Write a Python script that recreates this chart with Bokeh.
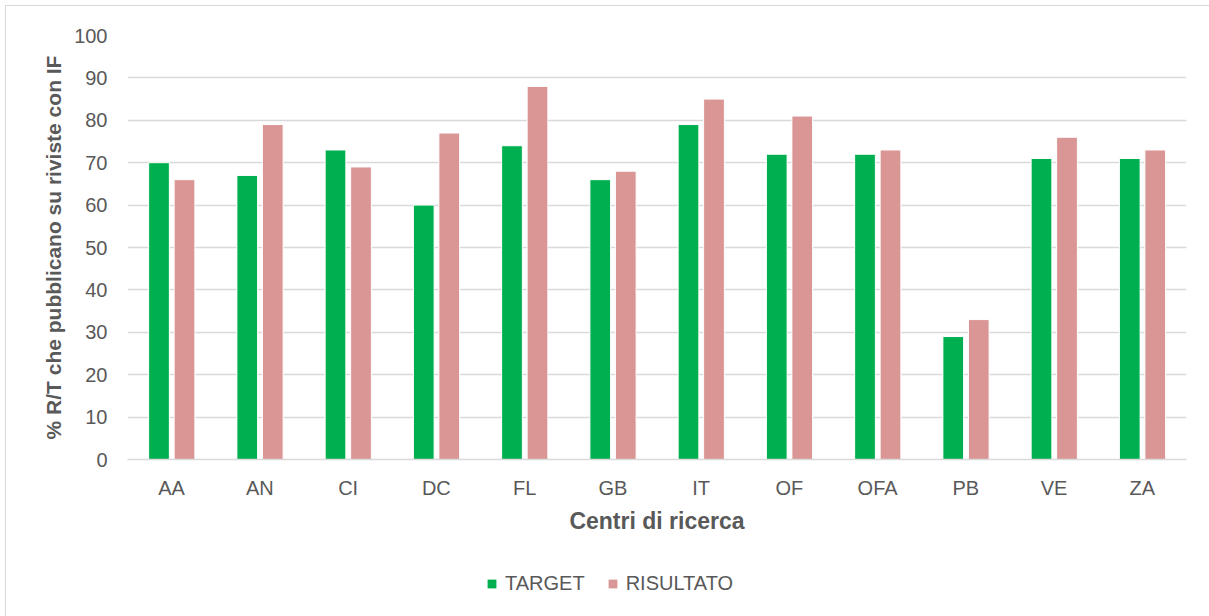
from bokeh.plotting import figure
from bokeh.layouts import column
from bokeh.models import FactorRange, Legend, LegendItem, ColumnDataSource
from bokeh.transform import dodge
from bokeh.embed import file_html
from bokeh.resources import INLINE

categories = ["AA", "AN", "CI", "DC", "FL", "GB", "IT", "OF", "OFA", "PB", "VE", "ZA"]
target = [70, 67, 73, 60, 74, 66, 79, 72, 72, 29, 71, 71]
risultato = [66, 79, 69, 77, 88, 68, 85, 81, 73, 33, 76, 73]
series_names = ["TARGET", "RISULTATO"]
y_ticks = list(range(0, 101, 10))

FONT = "Liberation Sans"
GREY = "#595959"
GREEN = "#00B050"
PINK = "#DA9694"

src = ColumnDataSource(dict(cat=categories, target=target, risultato=risultato))

p = figure(width=1203, height=530, x_range=FactorRange(*categories, range_padding=0),
           y_range=(0, 100), output_backend="svg", toolbar_location=None,
           min_border_left=121, min_border_right=23, min_border_top=29, min_border_bottom=76)
p.outline_line_color = None
p.background_fill_color = "white"
p.border_fill_color = "white"

g = p.vbar(x=dodge("cat", -0.143, range=p.x_range), top="target", width=0.235, source=src,
           fill_color=GREEN, line_color="white", line_width=1)
r = p.vbar(x=dodge("cat", 0.146, range=p.x_range), top="risultato", width=0.235, source=src,
           fill_color=PINK, line_color="white", line_width=1)

p.yaxis.ticker = y_ticks
p.ygrid.grid_line_color = "#D9D9D9"
p.ygrid.grid_line_width = 1.5
p.xgrid.grid_line_color = None

for ax in (p.xaxis[0], p.yaxis[0]):
    ax.major_tick_line_color = None
    ax.minor_tick_line_color = None
    ax.major_label_text_font = FONT
    ax.major_label_text_font_size = "20px"
    ax.major_label_text_color = GREY
    ax.axis_label_text_font = FONT
    ax.axis_label_text_font_style = "bold"
    ax.axis_label_text_color = GREY

p.xaxis.axis_label_text_font_size = "23px"
p.yaxis.axis_label_text_font_size = "21px"
p.yaxis.axis_line_color = None
p.xaxis.axis_line_color = "#D9D9D9"
p.xaxis.axis_line_width = 1.5
p.xaxis.axis_label = "Centri di ricerca"
p.yaxis.axis_label = "% R/T che pubblicano su riviste con IF"
p.xaxis.major_label_standoff = 11
p.xaxis.axis_label_standoff = 6
p.yaxis.major_label_standoff = 14
p.yaxis.axis_label_standoff = 6

# legend strip below the chart (legend-only swatch glyphs, kept outside the strip's view)
lf = figure(width=1203, height=80, x_range=(0, 1), y_range=(0, 1), output_backend="svg",
            toolbar_location=None, min_border=0)
lf.axis.visible = False
lf.grid.visible = False
lf.outline_line_color = None
swatch = ColumnDataSource(dict(x=[-5], top=[0]))
lg = lf.vbar(x="x", top="top", width=0.1, source=swatch, fill_color=GREEN, line_color=None)
lr = lf.vbar(x="x", top="top", width=0.1, source=swatch, fill_color=PINK, line_color=None)
legend = Legend(items=[LegendItem(label=series_names[0], renderers=[lg]),
                       LegendItem(label=series_names[1], renderers=[lr])],
                orientation="horizontal", location=(359, 21),
                label_text_font=FONT, label_text_font_size="20px", label_text_color=GREY,
                glyph_width=11, glyph_height=11, label_standoff=8, spacing=22,
                border_line_color=None, background_fill_alpha=0, margin=0, padding=0)
lf.add_layout(legend, "center")

layout = column(p, lf, spacing=0)
layout.styles = {"border-left": "1px solid #D9D9D9", "border-top": "1px solid #D9D9D9",
                 "margin-left": "5px", "margin-top": "5px"}

open("out.html", "w").write(file_html(layout, INLINE))
